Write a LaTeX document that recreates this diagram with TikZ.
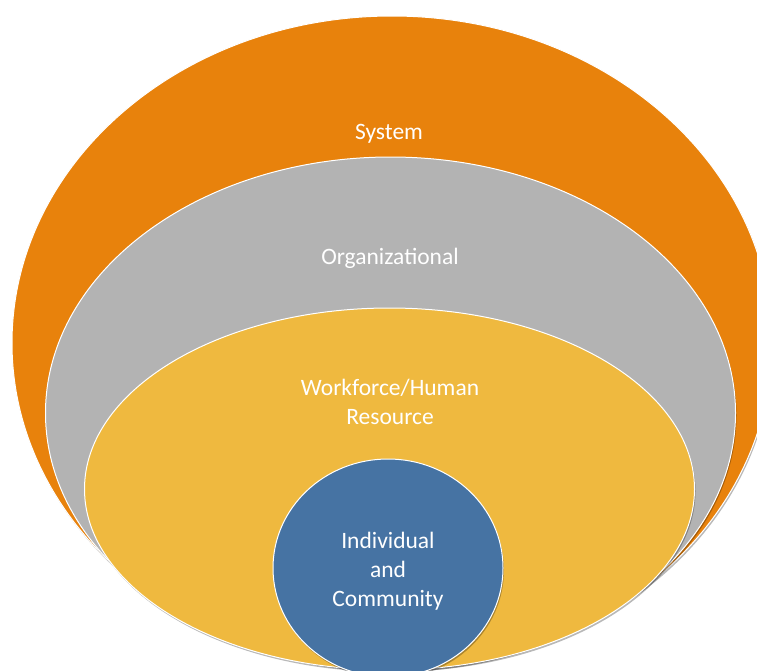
\documentclass[tikz,border=0pt]{standalone}
\usepackage{fontspec}
\setmainfont{Carlito}
\usetikzlibrary{shapes.geometric}
\definecolor{sysorange}{HTML}{E8820C}
\definecolor{orggray}{HTML}{B3B3B3}
\definecolor{wfyellow}{HTML}{EFB93F}
\definecolor{indblue}{HTML}{4673A3}
\tikzset{
  ring/.style={ellipse, inner sep=0pt, draw=white, line width=1pt},
  ringshadow/.style={ellipse, inner sep=0pt, fill=black, opacity=0.28},
  lbl/.style={text=white, font=\fontsize{23.5}{29}\selectfont, align=center, inner sep=0pt}
}
\begin{document}
\begin{tikzpicture}[x=1pt, y=-1pt]
\path[use as bounding box, clip] (0,0) rectangle (757,670);
\fill[white] (0,0) rectangle (757,670);
% orange
\node[ringshadow, minimum width=760pt, minimum height=654pt] (sysS) at (393,345) {};
\node[ring, fill=sysorange, minimum width=760pt, minimum height=654pt] (sys) at (392,343) {};
% gray
\node[ringshadow, minimum width=690pt, minimum height=512pt] (orgS) at (391.5,415) {};
\node[ring, fill=orggray, minimum width=690pt, minimum height=512pt] (org) at (390.5,413) {};
% yellow
\node[ringshadow, minimum width=610pt, minimum height=362pt] (wfS) at (390.5,491) {};
\node[ring, fill=wfyellow, minimum width=610pt, minimum height=362pt] (wf) at (389.5,489) {};
% blue
\node[ringshadow, minimum width=230pt, minimum height=218pt] (indS) at (389,570) {};
\node[ring, fill=indblue, minimum width=230pt, minimum height=218pt] (ind) at (388,568) {};
% labels
\node[lbl] (t1) at (389,134) {System};
\node[lbl] (t2) at (390,258) {Organizational};
\node[lbl] (t3) at (390,402) {Workforce/Human\\Resource};
\node[lbl] (t4) at (388,571) {Individual\\and\\Community};
\end{tikzpicture}
\end{document}
